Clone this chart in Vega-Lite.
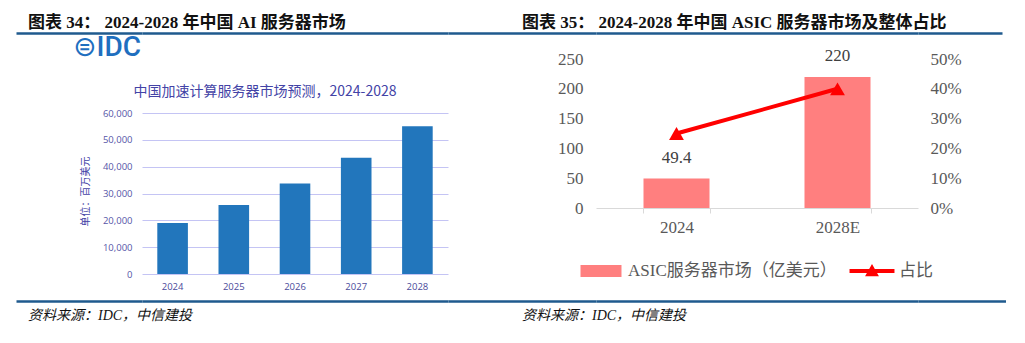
{
  "$schema": "https://vega.github.io/schema/vega-lite/v6.json",
  "background": "white",
  "padding": {"left": 16, "top": 13, "right": 0, "bottom": 0},
  "bounds": "flush",
  "columns": 5,
  "spacing": {"row": 26, "column": 0},
  "config": {"view": {"stroke": null}},
  "resolve": {"scale": {"color": "independent", "shape": "independent"}, "legend": {"color": "independent", "shape": "independent"}},
  "datasets": {
    "dummy": [{"v": 0.5}],
    "idc": [
      {"year": "2024", "value": 19000},
      {"year": "2025", "value": 25700},
      {"year": "2026", "value": 33700},
      {"year": "2027", "value": 43300},
      {"year": "2028", "value": 55100}
    ],
    "asic": [
      {"year": "2024", "market": 49.4, "share": 0.25},
      {"year": "2028E", "market": 220, "share": 0.40}
    ],
    "legendrows": [
      {"year": "2024", "series": "ASIC服务器市场（亿美元）"},
      {"year": "2024", "series": "占比"}
    ]
  },
  "concat": [
    {
      "width": 126, "height": 1,
      "title": {"text": "图表 34： 2024-2028 年中国 AI 服务器市场", "anchor": "start", "frame": "group", "dx": 12, "offset": -12.5, "baseline": "alphabetic", "font": "Liberation Serif, Noto Sans CJK SC", "fontSize": 17, "fontWeight": "bold", "color": "#111111"},
      "data": {"name": "dummy"}, "mark": {"type": "point", "size": 0, "strokeWidth": 0},
      "encoding": {"x": {"field": "v", "type": "quantitative", "scale": {"domain": [0, 1]}, "axis": {"labels": false, "ticks": false, "grid": false, "title": null, "domainColor": "#1f5a8e", "domainWidth": 2.5}}}
    },
    {
      "width": 306, "height": 1,
      "data": {"name": "dummy"}, "mark": {"type": "point", "size": 0, "strokeWidth": 0},
      "encoding": {"x": {"field": "v", "type": "quantitative", "scale": {"domain": [0, 1]}, "axis": {"labels": false, "ticks": false, "grid": false, "title": null, "domainColor": "#1f5a8e", "domainWidth": 2.5}}}
    },
    {
      "width": 148, "height": 1,
      "title": {"text": "图表 35： 2024-2028 年中国 ASIC 服务器市场及整体占比", "anchor": "start", "frame": "group", "dx": 74, "offset": -12.5, "baseline": "alphabetic", "font": "Liberation Serif, Noto Sans CJK SC", "fontSize": 17, "fontWeight": "bold", "color": "#111111"},
      "data": {"name": "dummy"}, "mark": {"type": "point", "size": 0, "strokeWidth": 0},
      "encoding": {"x": {"field": "v", "type": "quantitative", "scale": {"domain": [0, 1]}, "axis": {"labels": false, "ticks": false, "grid": false, "title": null, "domainColor": "#1f5a8e", "domainWidth": 2.5}}}
    },
    {
      "width": 322, "height": 1,
      "data": {"name": "dummy"}, "mark": {"type": "point", "size": 0, "strokeWidth": 0},
      "encoding": {"x": {"field": "v", "type": "quantitative", "scale": {"domain": [0, 1]}, "axis": {"labels": false, "ticks": false, "grid": false, "title": null, "domainColor": "#1f5a8e", "domainWidth": 2.5}}}
    },
    {
      "width": 84, "height": 1,
      "data": {"name": "dummy"}, "mark": {"type": "point", "size": 0, "strokeWidth": 0},
      "encoding": {"x": {"field": "v", "type": "quantitative", "scale": {"domain": [0, 1]}, "axis": {"labels": false, "ticks": false, "grid": false, "title": null, "domainColor": "#1f5a8e", "domainWidth": 2.5}}}
    },
    {"width": 126, "height": 1, "data": {"name": "dummy"}, "mark": {"type": "point", "size": 0, "strokeWidth": 0}},
    {
      "width": 306, "height": 215,
      "title": {"text": "⊜IDC", "anchor": "start", "frame": "group", "dx": -69, "offset": -25, "baseline": "alphabetic", "font": "Roboto, DejaVu Sans", "fontSize": 28, "fontWeight": 500, "color": "#1f6fbf"},
      "data": {"name": "idc"},
      "layer": [
        {
          "mark": {"type": "bar", "color": "#2276bc"},
          "encoding": {
            "x": {"field": "year", "type": "ordinal", "scale": {"paddingInner": 0.5, "paddingOuter": 0.25},
              "axis": {"orient": "bottom", "title": null, "labelAngle": 0, "domain": false, "ticks": false, "labelPadding": 7, "labelFont": "Open Sans", "labelFontSize": 9.5, "labelColor": "#4b4b9b"}},
            "y": {"field": "value", "type": "quantitative", "scale": {"domain": [0, 60000], "range": [215, 54]},
              "axis": {"values": [0, 10000, 20000, 30000, 40000, 50000, 60000], "tickCount": 7, "labelOverlap": false, "format": ",d", "domain": false, "ticks": false, "gridColor": "#c4c4f4", "gridWidth": 1, "labelPadding": 10, "labelFont": "Open Sans", "labelFontSize": 9.5, "labelColor": "#5656a8",
                "title": "单位：百万美元", "titleFont": "Noto Sans CJK SC", "titleFontSize": 10, "titleFontWeight": "normal", "titleColor": "#4343a6", "titlePadding": 12, "titleY": 132}}
          }
        },
        {
          "mark": {"type": "bar", "opacity": 0},
          "encoding": {
            "x": {"field": "year", "type": "ordinal",
              "axis": {"orient": "top", "offset": -40, "labels": false, "ticks": false, "domain": false, "grid": false,
                "title": "中国加速计算服务器市场预测，2024-2028", "titlePadding": 1, "titleX": -9, "titleAlign": "left", "titleFont": "Noto Sans CJK SC", "titleFontSize": 14, "titleFontWeight": "normal", "titleColor": "#4343a6"}}
          }
        }
      ],
      "resolve": {"axis": {"x": "independent"}}
    },
    {"width": 148, "height": 1, "data": {"name": "dummy"}, "mark": {"type": "point", "size": 0, "strokeWidth": 0}},
    {
      "width": 322, "height": 149,
      "encoding": {
        "x": {"field": "year", "type": "nominal", "scale": {"domain": ["2024", "2028E"], "paddingInner": 0.59, "paddingOuter": 0.295},
          "axis": {"title": null, "labelAngle": 0, "domainColor": "#d9d9d9", "domainWidth": 1, "tickColor": "#d9d9d9", "tickSize": 5, "tickBand": "extent", "labelPadding": 6, "labelFont": "Liberation Serif", "labelFontSize": 17, "labelColor": "#595959"}}
      },
      "layer": [
        {
          "data": {"name": "asic"},
          "encoding": {"y": {"field": "market", "type": "quantitative", "scale": {"domain": [0, 250]},
            "axis": {"values": [0, 50, 100, 150, 200, 250], "title": null, "domain": false, "ticks": false, "grid": false, "labelPadding": 13, "labelFont": "Liberation Serif", "labelFontSize": 17, "labelColor": "#595959"}}},
          "layer": [
            {"mark": {"type": "bar", "color": "#ff7f7f"}},
            {"mark": {"type": "text", "baseline": "bottom", "dy": -12, "font": "Liberation Serif", "fontSize": 17, "color": "#404040"},
              "encoding": {"text": {"field": "market", "type": "quantitative"}}}
          ]
        },
        {
          "data": {"name": "asic"},
          "encoding": {"y": {"field": "share", "type": "quantitative", "scale": {"domain": [0, 0.5]},
            "axis": {"orient": "right", "values": [0, 0.1, 0.2, 0.3, 0.4, 0.5], "format": ".0%", "title": null, "domain": false, "ticks": false, "grid": false, "labelPadding": 12, "labelFont": "Liberation Serif", "labelFontSize": 17, "labelColor": "#595959"}}},
          "layer": [
            {"mark": {"type": "line", "color": "#ff0000", "strokeWidth": 4}},
            {"mark": {"type": "point", "shape": "triangle-up", "filled": true, "color": "#ff0000", "size": 220, "opacity": 1}}
          ]
        },
        {
          "data": {"name": "legendrows"},
          "mark": {"type": "point", "filled": true, "size": 0, "strokeWidth": 0, "opacity": 1, "fillOpacity": 1},
          "encoding": {
            "color": {"field": "series", "type": "nominal",
              "scale": {"domain": ["ASIC服务器市场（亿美元）", "占比"], "range": ["#ff7f7f", "#ff0000"]},
              "legend": {"orient": "none", "legendX": -16, "legendY": 191, "direction": "horizontal", "title": null, "symbolSize": 1764, "symbolStrokeWidth": 0, "symbolOpacity": 1, "labelOffset": 6, "columnPadding": 12, "labelFont": "Liberation Serif, Noto Sans CJK SC", "labelFontSize": 17, "labelColor": "#595959", "labelLimit": 400}},
            "shape": {"field": "series", "type": "nominal",
              "scale": {"domain": ["ASIC服务器市场（亿美元）", "占比"], "range": ["M-0.976,-0.286H0.976V0.286H-0.976Z", "M-1.07,-0.095H1.07V0.095H-1.07Z M0,-0.33L0.33,0.25L-0.33,0.25Z"]}}
          }
        }
      ],
      "resolve": {"scale": {"y": "independent"}}
    },
    {"width": 1, "height": 1, "data": {"name": "dummy"}, "mark": {"type": "point", "size": 0, "strokeWidth": 0}},
    {
      "width": 126, "height": 1,
      "title": {"text": "资料来源：IDC，中信建投", "orient": "bottom", "anchor": "start", "frame": "group", "dx": 12, "offset": 8, "baseline": "top", "font": "Liberation Serif, Noto Sans CJK SC", "fontSize": 14, "fontStyle": "italic", "fontWeight": "normal", "color": "#111111"},
      "data": {"name": "dummy"}, "mark": {"type": "point", "size": 0, "strokeWidth": 0},
      "encoding": {"x": {"field": "v", "type": "quantitative", "scale": {"domain": [0, 1]}, "axis": {"labels": false, "ticks": false, "grid": false, "title": null, "domainColor": "#1f5a8e", "domainWidth": 2.5}}}
    },
    {
      "width": 306, "height": 1,
      "data": {"name": "dummy"}, "mark": {"type": "point", "size": 0, "strokeWidth": 0},
      "encoding": {"x": {"field": "v", "type": "quantitative", "scale": {"domain": [0, 1]}, "axis": {"labels": false, "ticks": false, "grid": false, "title": null, "domainColor": "#1f5a8e", "domainWidth": 2.5}}}
    },
    {
      "width": 148, "height": 1,
      "title": {"text": "资料来源：IDC，中信建投", "orient": "bottom", "anchor": "start", "frame": "group", "dx": 74, "offset": 8, "baseline": "top", "font": "Liberation Serif, Noto Sans CJK SC", "fontSize": 14, "fontStyle": "italic", "fontWeight": "normal", "color": "#111111"},
      "data": {"name": "dummy"}, "mark": {"type": "point", "size": 0, "strokeWidth": 0},
      "encoding": {"x": {"field": "v", "type": "quantitative", "scale": {"domain": [0, 1]}, "axis": {"labels": false, "ticks": false, "grid": false, "title": null, "domainColor": "#1f5a8e", "domainWidth": 2.5}}}
    },
    {
      "width": 322, "height": 1,
      "data": {"name": "dummy"}, "mark": {"type": "point", "size": 0, "strokeWidth": 0},
      "encoding": {"x": {"field": "v", "type": "quantitative", "scale": {"domain": [0, 1]}, "axis": {"labels": false, "ticks": false, "grid": false, "title": null, "domainColor": "#1f5a8e", "domainWidth": 2.5}}}
    },
    {
      "width": 88, "height": 1,
      "data": {"name": "dummy"}, "mark": {"type": "point", "size": 0, "strokeWidth": 0},
      "encoding": {"x": {"field": "v", "type": "quantitative", "scale": {"domain": [0, 1]}, "axis": {"labels": false, "ticks": false, "grid": false, "title": null, "domainColor": "#1f5a8e", "domainWidth": 2.5}}}
    }
  ]
}
